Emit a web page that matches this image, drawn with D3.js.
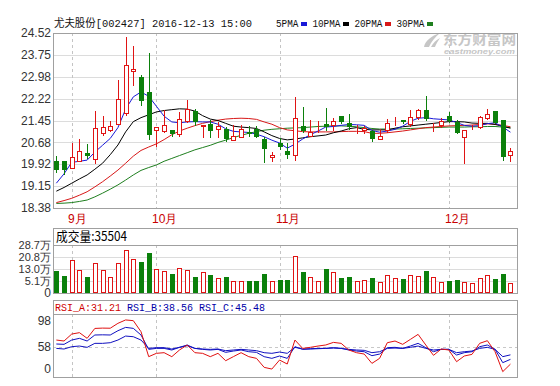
<!DOCTYPE html>
<html>
<head>
<meta charset="utf-8">
<script src="https://cdn.jsdelivr.net/npm/d3@7"></script>
<style>
body { margin: 0; background: #fff; }
svg { display: block; }
</style>
</head>
<body>
<div id="chart"></div>
<script>
// daily candles, 60 sessions up to 2016-12-13
var opens = [20.03,20.03,19.80,20.04,20.31,20.09,21.02,21.12,21.33,21.73,
    23.18,22.98,22.46,21.12,21.09,21.12,20.98,21.44,21.79,21.27,
    21.32,21.16,21.14,20.76,20.88,21.06,21.16,20.80,20.16,20.65,
    20.37,20.23,21.26,20.92,21.22,21.32,21.30,21.62,21.37,21.14,
    21.12,21.09,20.80,21.12,21.43,21.47,21.33,21.56,21.82,21.26,
    21.29,21.60,21.41,20.88,21.22,21.21,21.54,21.78,21.47,20.24];
var highs = [20.20,20.03,20.67,20.80,20.62,21.78,21.60,21.44,22.87,24.37,
    24.06,23.05,23.81,21.22,21.82,21.12,21.76,22.17,21.84,21.29,
    21.47,21.39,21.23,21.29,21.29,21.26,21.26,20.88,20.34,20.85,
    20.65,22.26,21.91,21.47,21.44,21.88,21.55,21.62,21.67,21.29,
    21.26,21.12,21.14,21.49,21.56,21.47,21.82,21.86,22.31,21.37,
    21.53,21.76,21.47,21.12,21.30,21.62,21.84,21.78,21.47,20.47];
var lows = [19.65,19.59,19.80,20.04,20.15,19.97,20.93,21.09,21.33,21.64,
    22.70,21.99,20.79,20.55,21.06,20.91,20.91,21.41,21.29,20.86,
    20.88,20.88,20.72,20.76,20.88,20.91,20.86,19.98,20.02,20.44,
    20.13,20.06,21.06,20.91,21.06,21.12,21.12,21.35,21.16,21.02,
    21.02,20.74,20.79,21.06,21.30,21.35,21.26,21.49,21.47,21.09,
    21.23,21.41,21.00,19.97,21.14,21.17,21.49,21.35,20.06,20.04];
var closes = [19.71,19.71,20.17,20.38,20.20,21.17,21.21,21.24,22.19,23.40,
    23.25,22.12,20.93,21.22,21.28,20.96,21.49,21.86,21.41,21.29,
    21.09,21.26,20.81,20.91,21.15,20.96,20.88,20.44,20.24,20.51,
    20.25,21.53,21.09,21.06,21.23,21.23,21.43,21.41,21.21,21.15,
    21.17,20.79,20.91,21.37,21.44,21.39,21.56,21.82,21.51,21.27,
    21.44,21.44,21.02,21.12,21.23,21.56,21.67,21.37,20.16,20.38];

// moving averages as drawn
var ma5 = [19.25,19.58,19.98,20.02,20.06,20.34,20.58,20.82,21.20,21.85,
    22.28,22.45,22.30,21.95,21.60,21.40,21.37,21.40,21.41,21.40,
    21.40,21.32,21.16,21.07,21.05,21.03,20.97,20.88,20.76,20.66,
    20.48,20.62,20.80,20.95,21.08,21.22,21.24,21.28,21.31,21.30,
    21.28,21.10,21.04,21.08,21.14,21.25,21.42,21.53,21.55,21.51,
    21.49,21.47,21.38,21.28,21.25,21.27,21.34,21.37,21.22,21.04];
var ma10 = [18.97,19.10,19.25,19.40,19.54,19.74,19.95,20.25,20.59,21.05,
    21.41,21.55,21.65,21.75,21.80,21.83,21.86,21.85,21.78,21.62,
    21.50,21.45,21.35,21.25,21.22,21.20,21.17,21.05,20.92,20.82,
    20.77,20.80,20.84,20.88,20.91,20.94,21.02,21.08,21.16,21.20,
    21.14,21.12,21.12,21.12,21.18,21.23,21.26,21.29,21.32,21.35,
    21.38,21.41,21.41,21.40,21.36,21.35,21.35,21.31,21.25,21.18];
var ma20 = [18.57,18.64,18.72,18.83,18.95,19.12,19.30,19.50,19.71,19.95,
    20.20,20.40,20.52,20.63,20.78,20.95,21.08,21.18,21.27,21.35,
    21.41,21.46,21.50,21.52,21.53,21.52,21.49,21.40,21.32,21.20,
    21.12,21.09,21.06,21.05,21.05,21.05,21.05,21.06,21.07,21.07,
    21.06,21.00,21.00,21.02,21.05,21.08,21.12,21.16,21.20,21.22,
    21.24,21.26,21.27,21.28,21.29,21.31,21.33,21.32,21.28,21.23];
var ma30 = [18.54,18.55,18.57,18.61,18.66,18.77,18.90,19.04,19.19,19.36,
    19.54,19.70,19.80,19.89,20.02,20.12,20.22,20.32,20.42,20.50,
    20.58,20.68,20.76,20.85,20.93,21.00,21.06,21.11,21.14,21.16,
    21.18,21.19,21.20,21.22,21.24,21.25,21.26,21.26,21.25,21.23,
    21.20,21.17,21.15,21.15,21.15,21.16,21.17,21.18,21.19,21.20,
    21.21,21.22,21.22,21.22,21.23,21.23,21.24,21.24,21.22,21.20];

// volume, in 万 (10k lots)
var volumes = [11.5,8.2,19.1,12.5,7.5,17.1,12.5,7.7,17.1,25.4,
    19.8,17.3,23.2,13.2,11.5,9.9,13.6,12.5,8.0,11.2,
    9.3,7.3,8.0,5.3,5.3,4.9,5.3,9.9,4.9,6.0,
    6.0,21.7,10.8,8.0,5.3,13.2,11.2,7.3,8.0,5.3,
    6.0,7.3,4.7,9.3,7.3,6.6,9.0,8.6,11.5,7.7,
    4.2,4.9,5.6,4.7,3.6,6.9,9.3,6.6,9.9,3.55];
var lastVolume = 35504;

var rsiA = [68.2,66.7,77.4,79.5,70.8,86.0,86.5,86.3,93.8,99.0,
    97.9,81.0,42.7,47.8,48.8,42.7,52.9,60.6,48.8,47.8,
    42.7,47.8,36.5,42.7,48.8,42.7,40.1,26.3,23.7,37.5,
    31.4,68.2,55.4,57.0,59.0,60.6,64.6,63.1,52.9,48.8,
    46.7,32.4,40.1,64.1,66.7,61.6,69.2,76.9,60.6,44.7,
    54.4,52.9,35.0,43.7,46.2,63.1,67.2,50.3,19.7,31.21];
var rsiB = [62.1,61.6,68.2,70.8,66.7,75.9,76.2,75.9,82.5,87.6,
    86.1,75.9,53.9,55.4,55.4,52.9,57.0,60.6,55.4,53.9,
    52.9,53.9,49.3,51.3,52.9,50.3,49.3,42.7,40.1,43.7,
    40.1,58.0,53.9,54.4,54.9,55.4,56.5,55.4,52.9,51.3,
    50.3,44.2,46.7,56.5,57.0,55.4,59.0,63.1,56.5,50.3,
    53.9,53.9,45.2,48.8,50.3,58.0,60.6,53.9,33.5,38.56];
var rsiC = [55.4,54.4,58.0,59.0,57.0,63.1,63.1,64.1,68.2,74.3,
    73.3,68.2,55.4,56.5,56.5,54.4,57.0,59.5,55.4,54.4,
    53.9,54.4,51.9,52.9,53.9,52.9,51.9,48.8,47.8,49.8,
    47.8,57.0,54.4,54.9,55.4,55.4,55.9,55.4,53.9,52.9,
    52.4,48.8,50.3,55.4,55.9,55.4,57.0,59.0,55.4,52.9,
    53.9,53.9,48.8,50.3,51.3,55.4,57.0,53.9,42.7,45.48];

var priceTicks = [24.52,23.75,22.98,22.22,21.45,20.68,19.92,19.15,18.38];
var volTicks = [28.7,20.8,13.0,5.1];
var rsiTicks = [98,58,0];
var monthNames = ["9月","10月","11月","12月"];
var monthStart = [2,13,29,51];
var maNames = ["5PMA","10PMA","20PMA","30PMA"];
var maColors = ["#1a1ad8","#000000","#d81818","#1f7f1f"];
var rsiNames = ["RSI_A","RSI_B","RSI_C"];
var rsiColors = ["#e01010","#1010c0","#1010c0"];
var rsiTextColors = ["#d00000","#0000a8","#0000a8"];

var W = 560, H = 386;
var left = 53, right = 517;
var mainTop = 33, mainBottom = 208;
var volTop = 228, volHead = 245, volBottom = 293;
var rsiTop = 300, rsiHead = 314, rsiBottom = 377;
var red = "#e01414", green = "#0b800b";

var svg = d3.select("#chart").append("svg")
    .attr("width", W)
    .attr("height", H)
    .style("font-family", "'Liberation Sans', Arial, sans-serif");

var idx = d3.range(closes.length);
var x = d3.scaleBand().domain(idx).range([52.5, 514.3]);
function cx(i) { return Math.round(x(i) + x.bandwidth() / 2); }

var y = d3.scaleLinear().domain([18.38, 24.52]).range([mainBottom, mainTop]);
var yVol = d3.scaleLinear().domain([-2.75, 28.7]).range([volBottom, volHead]);
var yRsi = d3.scaleLinear().domain([0, 100]).range([384.5, 319.3]);

// ---- grids ----
var grid = svg.append("g");
grid.selectAll(".pg").data(priceTicks).enter().append("line")
    .attr("x1", left).attr("x2", right)
    .attr("y1", function(d) { return Math.round(y(d)) + 0.5; })
    .attr("y2", function(d) { return Math.round(y(d)) + 0.5; })
    .attr("stroke", "#dcdcdc");
grid.selectAll(".vg").data(volTicks.slice(1)).enter().append("line")
    .attr("x1", left).attr("x2", right)
    .attr("y1", function(d) { return Math.round(yVol(d)) + 0.5; })
    .attr("y2", function(d) { return Math.round(yVol(d)) + 0.5; })
    .attr("stroke", "#dcdcdc");
grid.append("line")
    .attr("x1", left).attr("x2", right)
    .attr("y1", Math.round(yRsi(58)) + 0.5).attr("y2", Math.round(yRsi(58)) + 0.5)
    .attr("stroke", "#c8c8c8").attr("stroke-dasharray", "3,3");

var panels = [[mainTop, mainBottom], [volHead, volBottom], [rsiHead, rsiBottom]];
panels.forEach(function(p) {
    grid.selectAll(null).data(monthStart).enter().append("line")
        .attr("x1", function(i) { return cx(i) + 0.5; })
        .attr("x2", function(i) { return cx(i) + 0.5; })
        .attr("y1", p[0]).attr("y2", p[1])
        .attr("stroke", "#c4c4c4")
        .attr("stroke-dasharray", "3,3");
});

// ---- watermark ----
var wm = svg.append("g").attr("fill", "#c6c6c6");
wm.append("path")
    .attr("d", "M424,47 C425,41 431,36 440,33 C435,37 431,42 429,47 Z M431,47 C433,43 436,40 440,38 C438,41 436,44 435,47 Z");
wm.append("text").attr("x", 443).attr("y", 44)
    .attr("font-size", 13).attr("font-weight", "bold")
    .attr("font-family", "'Noto Sans CJK SC', sans-serif")
    .attr("textLength", 73).attr("lengthAdjust", "spacingAndGlyphs")
    .text("东方财富网");
wm.append("text").attr("x", 444).attr("y", 54)
    .attr("font-size", 7).attr("font-weight", "bold").attr("font-style", "italic")
    .attr("textLength", 71).attr("lengthAdjust", "spacingAndGlyphs")
    .text("eastmoney.com");

// ---- moving averages ----
var maLine = d3.line()
    .x(function(d, i) { return x(i) + x.bandwidth() / 2; })
    .y(function(d) { return y(d); });
[ma30, ma20, ma10, ma5].forEach(function(s, k) {
    svg.append("path")
        .datum(s)
        .attr("fill", "none")
        .attr("stroke", maColors[3 - k])
        .attr("stroke-width", 1)
        .attr("d", maLine);
});

// ---- candles ----
function isUp(i) { return closes[i] >= opens[i]; }
var candle = svg.append("g").selectAll("g")
    .data(idx)
    .enter()
    .append("g");

candle.append("line")
    .attr("x1", function(i) { return cx(i) + 0.5; })
    .attr("x2", function(i) { return cx(i) + 0.5; })
    .attr("y1", function(i) { return Math.round(y(highs[i])); })
    .attr("y2", function(i) { return Math.round(y(lows[i])) + 1; })
    .attr("stroke", function(i) { return isUp(i) ? red : green; });

candle.append("rect")
    .attr("x", function(i) { return isUp(i) ? cx(i) - 1.5 : cx(i) - 2; })
    .attr("y", function(i) {
        var t = Math.round(y(Math.max(opens[i], closes[i])));
        return isUp(i) ? t + 0.5 : t;
    })
    .attr("width", function(i) { return isUp(i) ? 4 : 5; })
    .attr("height", function(i) {
        var t = Math.round(y(Math.max(opens[i], closes[i])));
        var b = Math.round(y(Math.min(opens[i], closes[i])));
        return isUp(i) ? Math.max(b - t, 0) : Math.max(b - t, 1);
    })
    .attr("fill", function(i) { return isUp(i) ? "#fff" : green; })
    .attr("stroke", function(i) { return isUp(i) ? red : "none"; });

// ---- volume ----
svg.append("g").selectAll("rect")
    .data(idx)
    .enter()
    .append("rect")
    .attr("x", function(i) { return isUp(i) ? cx(i) - 1.5 : cx(i) - 2; })
    .attr("y", function(i) {
        var t = Math.round(yVol(volumes[i]));
        return isUp(i) ? t + 0.5 : t;
    })
    .attr("width", function(i) { return isUp(i) ? 4 : 5; })
    .attr("height", function(i) {
        var t = Math.round(yVol(volumes[i]));
        return isUp(i) ? volBottom - t - 1 : volBottom - t;
    })
    .attr("fill", function(i) { return isUp(i) ? "#fff" : green; })
    .attr("stroke", function(i) { return isUp(i) ? red : "none"; });

// ---- rsi ----
var rsiLine = d3.line()
    .x(function(d, i) { return x(i) + x.bandwidth() / 2; })
    .y(function(d) { return yRsi(d); });
[rsiC, rsiB, rsiA].forEach(function(s, k) {
    svg.append("path")
        .datum(s)
        .attr("fill", "none")
        .attr("stroke", rsiColors[2 - k])
        .attr("stroke-width", 1)
        .attr("d", rsiLine);
});

// ---- frames ----
var frame = svg.append("g").attr("fill", "none").attr("stroke", "#a0a0a0");
frame.append("rect").attr("x", left + 0.5).attr("y", mainTop + 0.5)
    .attr("width", right - left).attr("height", mainBottom - mainTop);
frame.append("rect").attr("x", left + 0.5).attr("y", volTop + 0.5)
    .attr("width", right - left).attr("height", volBottom - volTop);
frame.append("line").attr("x1", left).attr("x2", right + 1)
    .attr("y1", volHead + 0.5).attr("y2", volHead + 0.5);
frame.append("rect").attr("x", left + 0.5).attr("y", rsiTop + 0.5)
    .attr("width", right - left).attr("height", rsiBottom - rsiTop);
frame.append("line").attr("x1", left).attr("x2", right + 1)
    .attr("y1", rsiHead + 0.5).attr("y2", rsiHead + 0.5);

// ---- axis labels ----
var labels = svg.append("g")
    .attr("font-size", 12)
    .attr("fill", "#333")
    .attr("text-anchor", "end");
labels.selectAll(".pl").data(priceTicks).enter().append("text")
    .attr("x", 51)
    .attr("y", function(d) { return y(d); })
    .attr("dy", "0.35em")
    .text(function(d) { return d.toFixed(2); });
labels.selectAll(".vl").data(volTicks).enter().append("text")
    .attr("x", 51)
    .attr("y", function(d) { return yVol(d); })
    .attr("dy", "0.35em")
    .attr("font-size", 11)
    .text(function(d) { return d.toFixed(1) + "万"; });
labels.append("text")
    .attr("x", 51).attr("y", volBottom).attr("dy", "0.35em")
    .text("0");
labels.selectAll(".rl").data(rsiTicks).enter().append("text")
    .attr("x", 51)
    .attr("y", function(d) { return Math.min(yRsi(d), rsiBottom - 8); })
    .attr("dy", "0.35em")
    .text(function(d) { return d; });

svg.append("g").selectAll("text")
    .data(monthStart)
    .enter()
    .append("text")
    .attr("x", function(i) { return cx(i) - 4; })
    .attr("y", 223)
    .attr("font-size", 12)
    .attr("fill", "#c80000")
    .text(function(d, k) { return monthNames[k]; });

// ---- headers ----
var mono = "'Liberation Mono', 'Noto Sans CJK SC', monospace";
svg.append("text")
    .attr("x", 54).attr("y", 27)
    .attr("font-family", mono).attr("font-size", 11)
    .attr("textLength", 198).attr("lengthAdjust", "spacingAndGlyphs")
    .attr("fill", "#111")
    .text("尤夫股份[002427] 2016-12-13 15:00");

var lx = 276;
maNames.forEach(function(name, k) {
    var w = name.length * 5.6;
    svg.append("text")
        .attr("x", lx).attr("y", 27)
        .attr("font-family", mono).attr("font-size", 11)
        .attr("textLength", w).attr("lengthAdjust", "spacingAndGlyphs")
        .attr("fill", "#111")
        .text(name);
    svg.append("rect")
        .attr("x", Math.round(lx + w + 3)).attr("y", 22)
        .attr("width", 6).attr("height", 4)
        .attr("fill", maColors[k]);
    lx += w + 14;
});

svg.append("text")
    .attr("x", 56).attr("y", 240.5)
    .attr("font-family", "'Noto Sans CJK SC', sans-serif")
    .attr("font-size", 13)
    .attr("textLength", 71).attr("lengthAdjust", "spacingAndGlyphs")
    .attr("fill", "#000")
    .text("成交量:" + lastVolume);

var rsiLast = [rsiA, rsiB, rsiC].map(function(s) { return s[s.length - 1]; });
rsiNames.forEach(function(name, k) {
    svg.append("text")
        .attr("x", 55 + k * 72).attr("y", 310.5)
        .attr("font-family", mono).attr("font-size", 11)
        .attr("textLength", 66).attr("lengthAdjust", "spacingAndGlyphs")
        .attr("fill", rsiTextColors[k])
        .text(name + ":" + rsiLast[k].toFixed(2));
});
</script>
</body>
</html>
